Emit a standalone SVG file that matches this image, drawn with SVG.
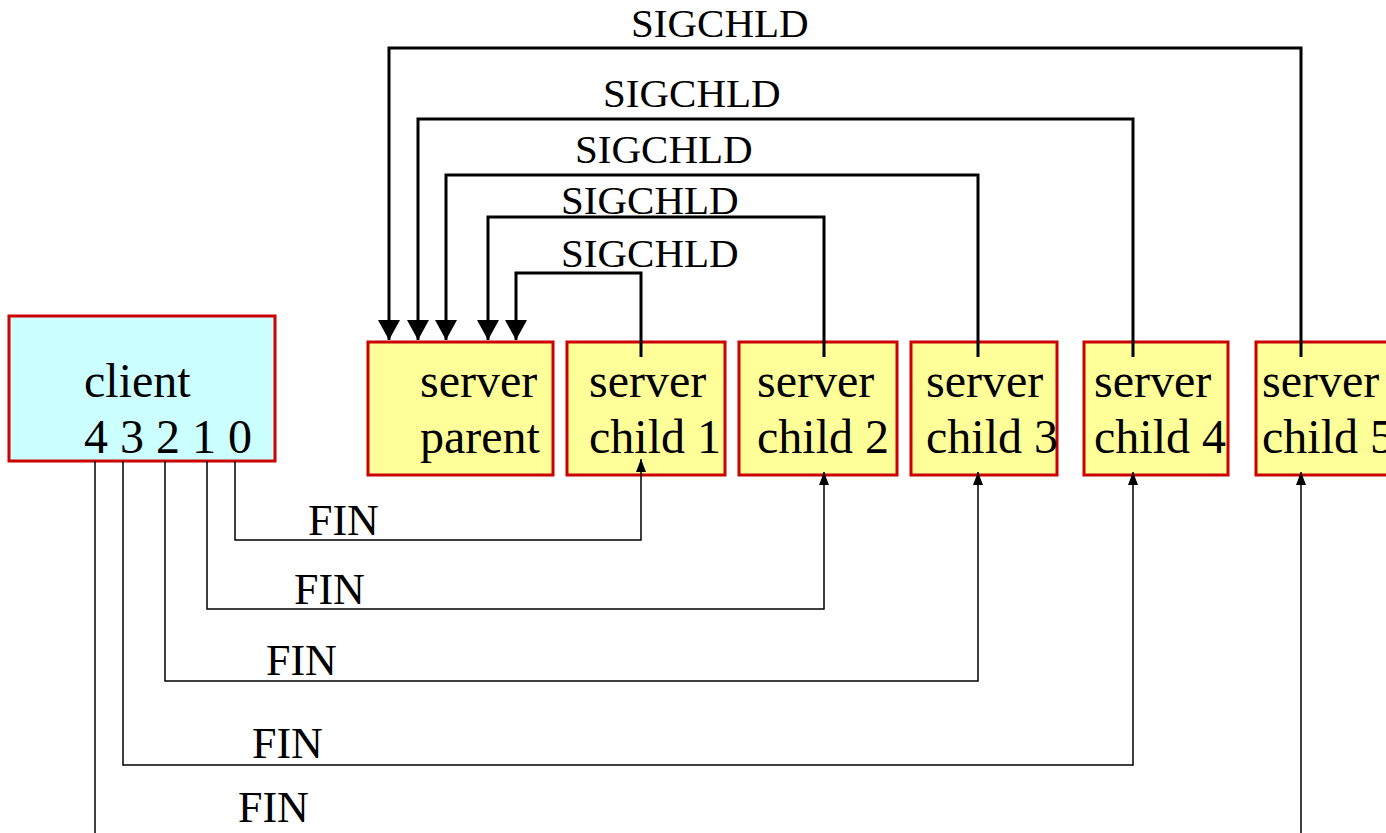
<svg xmlns="http://www.w3.org/2000/svg" width="1386" height="833" viewBox="0 0 1386 833">
<style>
.box{stroke:#cc0000;stroke-width:3}
.cl{fill:#ccffff}
.sv{fill:#ffff99}
text{font-family:"Liberation Serif","Times New Roman",serif;fill:#000}
.nt{font-size:48px}
.lb{font-size:41px}
.fl{font-size:44px}
.sig{fill:none;stroke:#000;stroke-width:3}
.fin{fill:none;stroke:#000;stroke-width:1.5}
</style>
<defs>
<marker id="big" markerUnits="userSpaceOnUse" markerWidth="22" markerHeight="21" refX="11" refY="20" orient="0" viewBox="0 0 22 21">
<path d="M0,0 L22,0 L11,20 Z" fill="#000"/>
</marker>
<marker id="small" markerUnits="userSpaceOnUse" markerWidth="12" markerHeight="14" refX="5" refY="0" viewBox="0 0 10 14" orient="0">
<path d="M0,13 L10,13 L5,0 Z" fill="#000"/>
</marker>
</defs>
<g id="client">
<rect class="box cl" x="9" y="316" width="266" height="145"/>
<text class="nt" x="84" y="397">client</text>
<text class="nt" x="84" y="453">4 3 2 1 0</text>
</g>
<g id="parent">
<rect class="box sv" x="368" y="342" width="185" height="133"/>
<text class="nt" x="420" y="397">server</text>
<text class="nt" x="420" y="453">parent</text>
</g>
<g id="child1">
<rect class="box sv" x="567" y="342" width="158" height="133"/>
<text class="nt" x="589" y="397">server</text>
<text class="nt" x="589" y="453">child 1</text>
</g>
<g id="child2">
<rect class="box sv" x="739" y="342" width="158" height="133"/>
<text class="nt" x="757" y="397">server</text>
<text class="nt" x="757" y="453">child 2</text>
</g>
<g id="child3">
<rect class="box sv" x="911" y="342" width="146" height="133"/>
<text class="nt" x="926" y="397">server</text>
<text class="nt" x="926" y="453">child 3</text>
</g>
<g id="child4">
<rect class="box sv" x="1084" y="342" width="144" height="133"/>
<text class="nt" x="1094" y="397">server</text>
<text class="nt" x="1094" y="453">child 4</text>
</g>
<g id="child5">
<rect class="box sv" x="1256" y="342" width="140" height="133"/>
<text class="nt" x="1262" y="397">server</text>
<text class="nt" x="1262" y="453">child 5</text>
</g>
<g id="connectors">
<path class="sig" d="M641,357 V273 H516 V340" marker-end="url(#big)"/>
<path class="sig" d="M824,357 V217 H488 V340" marker-end="url(#big)"/>
<path class="sig" d="M978,357 V175 H446 V340" marker-end="url(#big)"/>
<path class="sig" d="M1133,357 V119 H418 V340" marker-end="url(#big)"/>
<path class="sig" d="M1301,357 V48 H389 V340" marker-end="url(#big)"/>
<path class="fin" d="M235,461 V540 H641 V459" marker-end="url(#small)"/>
<path class="fin" d="M207,461 V609 H824 V472" marker-end="url(#small)"/>
<path class="fin" d="M165,461 V681 H978 V472" marker-end="url(#small)"/>
<path class="fin" d="M123,461 V765 H1133 V472" marker-end="url(#small)"/>
<path class="fin" d="M95,461 V833"/>
<path class="fin" d="M1301,833 V472" marker-end="url(#small)"/>
</g>
<g id="labels">
<text class="lb" x="631" y="37">SIGCHLD</text>
<text class="lb" x="603" y="107">SIGCHLD</text>
<text class="lb" x="575" y="163">SIGCHLD</text>
<text class="lb" x="561" y="214">SIGCHLD</text>
<text class="lb" x="561" y="267">SIGCHLD</text>
<text class="fl" x="308" y="535">FIN</text>
<text class="fl" x="294" y="604">FIN</text>
<text class="fl" x="266" y="675">FIN</text>
<text class="fl" x="252" y="758">FIN</text>
<text class="fl" x="238" y="822">FIN</text>
</g>
</svg>
